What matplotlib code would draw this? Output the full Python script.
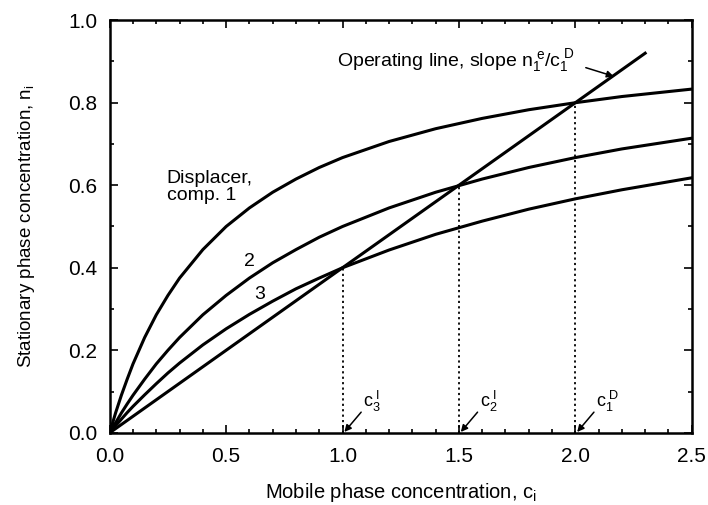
import matplotlib
matplotlib.use('Agg')
import matplotlib.pyplot as plt
from matplotlib.ticker import MultipleLocator, FormatStrFormatter

# values
c = [0, 0.025, 0.05, 0.075, 0.1, 0.15, 0.2, 0.25, 0.3, 0.4, 0.5, 0.6, 0.7, 0.8, 0.9,
     1.0, 1.2, 1.4, 1.6, 1.8, 2.0, 2.2, 2.5]
n_comp1 = [0, 0.048, 0.091, 0.130, 0.167, 0.231, 0.286, 0.333, 0.375, 0.444, 0.500, 0.545,
           0.583, 0.615, 0.643, 0.667, 0.706, 0.737, 0.762, 0.783, 0.800, 0.815, 0.833]
n_comp2 = [0, 0.024, 0.048, 0.070, 0.091, 0.130, 0.167, 0.200, 0.231, 0.286, 0.333, 0.375,
           0.412, 0.444, 0.474, 0.500, 0.545, 0.583, 0.615, 0.643, 0.667, 0.688, 0.714]
n_comp3 = [0, 0.017, 0.033, 0.049, 0.064, 0.092, 0.119, 0.145, 0.169, 0.213, 0.252, 0.287,
           0.319, 0.349, 0.375, 0.400, 0.443, 0.481, 0.513, 0.542, 0.567, 0.589, 0.618]
c_op = [0.0, 2.3]
n_op = [0.0, 0.92]
c_cross = [1.0, 1.5, 2.0]
n_cross = [0.4, 0.6, 0.8]
cross_labels = [r'$\mathregular{c_3^{\ I}}$', r'$\mathregular{c_2^{\ I}}$', r'$\mathregular{c_1^{\ D}}$']

plt.rcParams['font.family'] = ['Liberation Sans', 'DejaVu Sans']
plt.rcParams['mathtext.fontset'] = 'custom'
plt.rcParams['mathtext.rm'] = 'Liberation Sans'
plt.rcParams['mathtext.it'] = 'Liberation Sans:italic'

fig = plt.figure(figsize=(7.08, 5.05), dpi=100)
ax = fig.add_axes([0.155, 0.143, 0.822, 0.817])

lw = 2.2
ax.plot(c, n_comp1, color='black', lw=lw)
ax.plot(c, n_comp2, color='black', lw=lw)
ax.plot(c, n_comp3, color='black', lw=lw)
ax.plot(c_op, n_op, color='black', lw=lw)

for xc, yc, lab in zip(c_cross, n_cross, cross_labels):
    ax.plot([xc, xc], [0, yc], color='black', lw=1.3, ls=(0, (1.2, 1.8)))
    ax.annotate('', xy=(xc + 0.008, 0.002), xytext=(xc + 0.08, 0.05),
                arrowprops=dict(arrowstyle='-|>', color='black', lw=1.1, mutation_scale=10,
                                shrinkA=0, shrinkB=0))
    ax.text(xc + 0.09, 0.045, lab, fontsize=13, ha='left', va='bottom')

ax.text(0.245, 0.595, 'Displacer,\ncomp. 1', fontsize=14, ha='left', va='center', linespacing=1.0)
ax.text(0.60, 0.415, '2', fontsize=14, ha='center', va='center')
ax.text(0.645, 0.334, '3', fontsize=14, ha='center', va='center')
ax.text(0.975, 0.903, r'Operating line, slope $\mathregular{n_1^{\ e}/c_1^{\ D}}$',
        fontsize=14, ha='left', va='center')
ax.annotate('', xy=(2.165, 0.864), xytext=(2.045, 0.885),
            arrowprops=dict(arrowstyle='-|>', color='black', lw=1.1, mutation_scale=10,
                            shrinkA=0, shrinkB=0))

ax.set_xlim(0, 2.5)
ax.set_ylim(0, 1.0)
ax.xaxis.set_major_locator(MultipleLocator(0.5))
ax.xaxis.set_minor_locator(MultipleLocator(0.1))
ax.yaxis.set_major_locator(MultipleLocator(0.2))
ax.yaxis.set_minor_locator(MultipleLocator(0.1))
ax.xaxis.set_major_formatter(FormatStrFormatter('%.1f'))
ax.yaxis.set_major_formatter(FormatStrFormatter('%.1f'))
ax.tick_params(which='both', direction='in', top=True, right=True, labelsize=15, width=1.2)
ax.tick_params(which='major', length=6)
ax.tick_params(axis='x', which='major', pad=10)
ax.tick_params(axis='y', which='major', pad=9)
ax.tick_params(which='minor', length=3)
for sp in ax.spines.values():
    sp.set_linewidth(1.8)

ax.set_xlabel(r'Mobile phase concentration, c$_\mathregular{i}$', fontsize=14.5, labelpad=11)
ax.set_ylabel(r'Stationary phase concentration, n$_\mathregular{i}$', fontsize=13.5, labelpad=22)

fig.savefig('out.png', dpi=100)
